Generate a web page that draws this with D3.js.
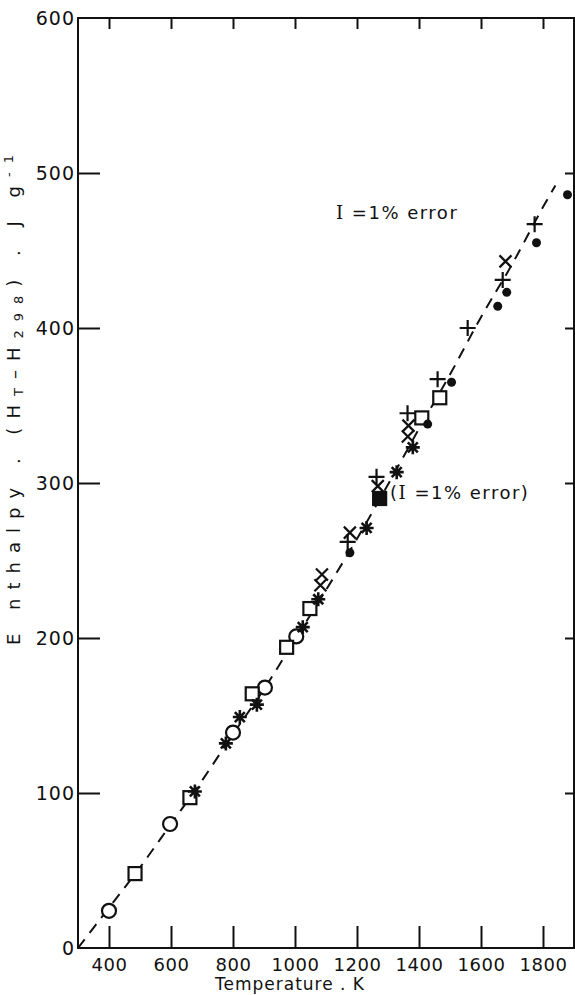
<!DOCTYPE html>
<html>
<head>
<meta charset="utf-8">
<script src="https://cdn.jsdelivr.net/npm/d3@7"></script>
<style>
  body { margin: 0; background: #fff; }
  svg { display: block; }
  text { font-family: "DejaVu Sans", sans-serif; fill: #111; }
</style>
</head>
<body>
<div id="chart"></div>
<script>
// chart size
const width = 575;
const height = 995;

// data, [temperature K, enthalpy J/g]
const circles = [[400, 24], [597, 80], [800, 139], [903, 168], [1004, 201]];
const squares = [[484, 48], [661, 97], [862, 164], [973, 194], [1048, 219], [1409, 342], [1467, 355]];
const filledSquares = [[1273, 290]];
const stars = [[677, 101], [777, 132], [822, 149], [877, 157], [1025, 207], [1075, 225], [1231, 271], [1328, 307], [1380, 323]];
const crosses = [[1087, 241], [1082, 234], [1177, 268], [1267, 298], [1364, 330], [1366, 337], [1679, 443]];
const pluses = [[1170, 262], [1263, 304], [1363, 345], [1460, 367], [1557, 400], [1670, 431], [1773, 467]];
const dots = [[1177, 255], [1428, 338], [1505, 365], [1654, 414], [1683, 423], [1779, 455], [1879, 486]];
// fitted dashed curve
const fitLine = [[300, 0], [400, 26], [500, 52], [600, 80], [700, 108], [800, 138], [900, 167], [1000, 199],
  [1100, 231], [1200, 264], [1300, 299], [1400, 335], [1500, 370], [1600, 407], [1700, 441], [1800, 478], [1840, 492]];
const xTicks = [400, 600, 800, 1000, 1200, 1400, 1600, 1800];
const yTicks = [0, 100, 200, 300, 400, 500, 600];

const x = d3.scaleLinear().domain([300, 1900]).range([78, 574]);
const y = d3.scaleLinear().domain([0, 600]).range([948, 18]);

const svg = d3.select("#chart").append("svg")
  .attr("width", width)
  .attr("height", height);

// frame
svg.append("rect")
  .attr("x", x(300)).attr("y", y(600))
  .attr("width", x(1900) - x(300)).attr("height", y(0) - y(600))
  .attr("fill", "none").attr("stroke", "#111").attr("stroke-width", 2);

// left axis
const yAxis = svg.append("g")
  .attr("transform", `translate(${x(300)},0)`)
  .call(d3.axisLeft(y).tickValues(yTicks).tickSize(-22).tickSizeOuter(0).tickPadding(3));
yAxis.select(".domain").remove();
yAxis.selectAll(".tick line").attr("stroke", "#111").attr("stroke-width", 2)
  .filter(d => d === 0 || d === 600).remove();
yAxis.selectAll(".tick text").style("font-size", "19px").style("letter-spacing", "1px")
  .attr("dy", "0.36em").attr("fill", "#111");

// bottom axis
const xAxis = svg.append("g")
  .attr("transform", `translate(0,${y(0)})`)
  .call(d3.axisBottom(x).tickValues(xTicks).tickSize(-22).tickSizeOuter(0).tickPadding(10).tickFormat(d3.format("d")));
xAxis.select(".domain").remove();
xAxis.selectAll(".tick line").attr("stroke", "#111").attr("stroke-width", 2);
xAxis.selectAll(".tick text").style("font-size", "18px").style("letter-spacing", "0.5px").attr("fill", "#111");

// top and right ticks, no labels
const topAxis = svg.append("g")
  .attr("transform", `translate(0,${y(600)})`)
  .call(d3.axisTop(x).tickValues(xTicks).tickSize(-11).tickSizeOuter(0).tickFormat(""));
topAxis.select(".domain").remove();
topAxis.selectAll(".tick line").attr("stroke", "#111").attr("stroke-width", 2);

const rightAxis = svg.append("g")
  .attr("transform", `translate(${x(1900)},0)`)
  .call(d3.axisRight(y).tickValues(yTicks.slice(1, -1)).tickSize(-9).tickSizeOuter(0).tickFormat(""));
rightAxis.select(".domain").remove();
rightAxis.selectAll(".tick line").attr("stroke", "#111").attr("stroke-width", 2);

// dashed fit
const line = d3.line().x(d => x(d[0])).y(d => y(d[1])).curve(d3.curveMonotoneX);
svg.append("path")
  .datum(fitLine)
  .attr("d", line)
  .attr("fill", "none")
  .attr("stroke", "#111")
  .attr("stroke-width", 2)
  .attr("stroke-dasharray", "11,8");

const marks = svg.append("g").attr("stroke", "#111").attr("stroke-width", 2.2).attr("fill", "none");

marks.selectAll(".circ").data(circles).join("circle")
  .attr("cx", d => x(d[0])).attr("cy", d => y(d[1])).attr("r", 7)
  .attr("fill", "#fff");

marks.selectAll(".sq").data(squares).join("rect")
  .attr("x", d => x(d[0]) - 6.5).attr("y", d => y(d[1]) - 6.5)
  .attr("width", 13).attr("height", 13)
  .attr("fill", "#fff");

marks.selectAll(".fsq").data(filledSquares).join("rect")
  .attr("x", d => x(d[0]) - 6.5).attr("y", d => y(d[1]) - 6.5)
  .attr("width", 13).attr("height", 13)
  .attr("fill", "#111");

marks.selectAll(".star").data(stars).join("path")
  .attr("transform", d => `translate(${x(d[0])},${y(d[1])})`)
  .attr("stroke-width", 2.6)
  .attr("d", "M-7,0H7M0,-7V7M-5,-5L5,5M-5,5L5,-5");

marks.selectAll(".cross").data(crosses).join("path")
  .attr("transform", d => `translate(${x(d[0])},${y(d[1])})`)
  .attr("d", "M-6,-6L6,6M-6,6L6,-6");

marks.selectAll(".plus").data(pluses).join("path")
  .attr("transform", d => `translate(${x(d[0])},${y(d[1])})`)
  .attr("d", "M-8,0H8M0,-8V8");

marks.selectAll(".dot").data(dots).join("circle")
  .attr("cx", d => x(d[0])).attr("cy", d => y(d[1])).attr("r", 4.5)
  .attr("fill", "#111").attr("stroke", "none");

// notes
const note1 = svg.append("text")
  .attr("x", 336).attr("y", 219)
  .style("font-size", "18px")
  .style("letter-spacing", "1.5px");
note1.append("tspan").style("font-family", "DejaVu Serif").text("I");
note1.append("tspan").text(" =1% error");

const note2 = svg.append("text")
  .attr("x", 390).attr("y", 499)
  .style("font-size", "18px")
  .style("letter-spacing", "1.5px");
note2.append("tspan").text("(");
note2.append("tspan").style("font-family", "DejaVu Serif").text("I");
note2.append("tspan").text(" =1% error)");

// axis titles
svg.append("text")
  .attr("x", 290).attr("y", 990)
  .attr("text-anchor", "middle")
  .style("font-size", "17px")
  .style("letter-spacing", "1px")
  .text("Temperature . K");

const yTitle = svg.append("text")
  .attr("transform", "translate(20,400) rotate(-90)")
  .attr("text-anchor", "middle")
  .attr("textLength", 490)
  .attr("lengthAdjust", "spacing")
  .style("font-size", "18px");
yTitle.append("tspan").text("E nthalpy . (H");
yTitle.append("tspan").attr("baseline-shift", "-25%").style("font-size", "13px").text("T");
yTitle.append("tspan").text("\u2013H");
yTitle.append("tspan").attr("baseline-shift", "-25%").style("font-size", "13px").text("298");
yTitle.append("tspan").text(") . J g");
yTitle.append("tspan").attr("baseline-shift", "super").style("font-size", "13px").text("-1");
</script>
</body>
</html>
